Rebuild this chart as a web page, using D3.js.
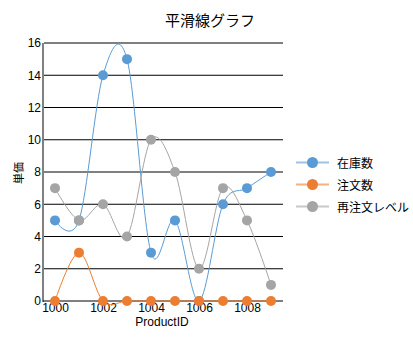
<!DOCTYPE html>
<html>
<head>
<meta charset="utf-8">
<script src="https://cdn.jsdelivr.net/npm/d3@7"></script>
<style>
  html, body { margin: 0; padding: 0; background: #fff; }
  svg { display: block; }
</style>
</head>
<body>
<script>
// Product IDs along the x axis
const productIds = [1000, 1001, 1002, 1003, 1004, 1005, 1006, 1007, 1008, 1009];
// Series values
const stock = [5, 5, 14, 15, 3, 5, 0, 6, 7, 8];
const orders = [0, 3, 0, 0, 0, 0, 0, 0, 0, 0];
const reorderLevel = [7, 5, 6, 4, 10, 8, 2, 7, 5, 1];
// Axis ticks
const yTicks = [0, 2, 4, 6, 8, 10, 12, 14, 16];
const xTickLabels = [1000, 1002, 1004, 1006, 1008];
const seriesNames = ["在庫数", "注文数", "再注文レベル"];
const seriesColors = ["#5B9BD5", "#ED7D31", "#A5A5A5"];

const series = [stock, orders, reorderLevel].map((vals, i) => ({
  name: seriesNames[i],
  color: seriesColors[i],
  values: vals.map((v, j) => ({ id: productIds[j], v }))
}));

const W = 413, H = 338;
const plot = { left: 43, right: 283, top: 43, bottom: 301 };
const latin = "'Liberation Sans', Arial, sans-serif";
const cjk = "'Noto Sans CJK JP', 'Noto Sans', sans-serif";

const svg = d3.select("body").append("svg").attr("width", W).attr("height", H);

const x = d3.scalePoint().domain(productIds).range([plot.left, plot.right]).padding(0.5);
const y = d3.scaleLinear().domain([0, 16]).range([plot.bottom, plot.top]);

// Title
svg.append("text")
  .attr("x", 210).attr("y", 26)
  .attr("text-anchor", "middle")
  .style("font-family", cjk).style("font-size", "15px")
  .attr("fill", "#000")
  .text("平滑線グラフ");

// Horizontal grid lines
svg.append("g").selectAll("line").data(yTicks.filter(t => t > 0)).join("line")
  .attr("x1", plot.left + 1).attr("x2", plot.right)
  .attr("y1", d => y(d)).attr("y2", d => y(d))
  .attr("stroke", "#000").attr("stroke-width", 1);

// Y axis with labels
const yAxis = d3.axisLeft(y).tickValues(yTicks).tickSize(0).tickPadding(2);
const gy = svg.append("g").attr("transform", `translate(${plot.left},0)`).call(yAxis);
gy.select(".domain").remove();
gy.selectAll("text").style("font-family", latin).style("font-size", "12px").attr("fill", "#000");
svg.append("line")
  .attr("x1", plot.left).attr("x2", plot.left)
  .attr("y1", plot.top).attr("y2", plot.bottom + 1)
  .attr("stroke", "#808080").attr("stroke-width", 2);

// X axis with labels
const xAxis = d3.axisBottom(x).tickValues(xTickLabels).tickSize(0).tickPadding(2.5);
const gx = svg.append("g").attr("transform", `translate(0,${plot.bottom})`).call(xAxis);
gx.select(".domain").remove();
gx.selectAll("text").style("font-family", latin).style("font-size", "12px").attr("fill", "#000");
svg.append("line")
  .attr("x1", plot.left).attr("x2", plot.right)
  .attr("y1", plot.bottom).attr("y2", plot.bottom)
  .attr("stroke", "#000").attr("stroke-width", 1);

// Axis titles
svg.append("text")
  .attr("x", (plot.left + plot.right) / 2 - 1).attr("y", 326)
  .attr("text-anchor", "middle")
  .style("font-family", latin).style("font-size", "12px")
  .text("ProductID");
svg.append("text")
  .attr("transform", "translate(18,173) rotate(-90)")
  .attr("text-anchor", "middle").attr("dominant-baseline", "central")
  .style("font-family", cjk).style("font-size", "11px")
  .text("単価");

// Smoothed lines and markers
const line = d3.line().x(d => x(d.id)).y(d => y(d.v)).curve(d3.curveCardinal.tension(0));
series.forEach(s => {
  const g = svg.append("g");
  g.append("path").datum(s.values)
    .attr("d", line).attr("fill", "none")
    .attr("stroke", s.color).attr("stroke-width", 1);
  g.selectAll("circle").data(s.values).join("circle")
    .attr("cx", d => x(d.id)).attr("cy", d => y(d.v)).attr("r", 5)
    .attr("fill", s.color);
});

// Legend
const legend = svg.append("g").selectAll("g").data(series).join("g")
  .attr("transform", (d, i) => `translate(0,${162.5 + i * 22})`);
legend.append("line")
  .attr("x1", 296).attr("x2", 329).attr("y1", 0).attr("y2", 0)
  .attr("stroke", d => d.color).attr("stroke-width", 2).attr("stroke-opacity", 0.6);
legend.append("circle").attr("cx", 312.5).attr("cy", 0).attr("r", 5.5).attr("fill", d => d.color);
legend.append("text")
  .attr("x", 337).attr("y", 0).attr("dominant-baseline", "central")
  .style("font-family", cjk).style("font-size", "12px")
  .text(d => d.name);
</script>
</body>
</html>
